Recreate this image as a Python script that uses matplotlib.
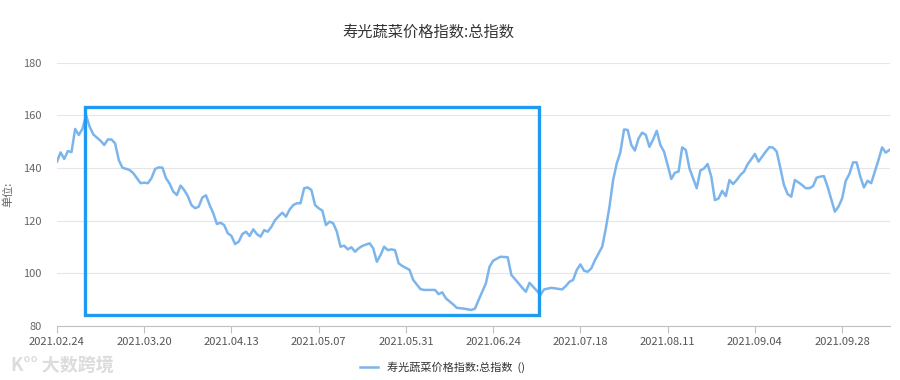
import matplotlib
matplotlib.use("Agg")
import matplotlib.pyplot as plt
from matplotlib.patches import Rectangle
import pandas as pd

plt.rcParams['font.family'] = ['Noto Sans CJK SC', 'DejaVu Sans']

start = pd.Timestamp("2021-02-24")

# days since 2021-02-24
days = [0, 1, 2, 3, 4, 5, 6, 7, 8, 9, 10, 12, 13, 14, 15, 16, 17, 18, 20, 21,
        23, 24, 25, 26, 27, 28, 29, 30, 31, 32, 33, 34, 35, 36, 37, 38, 39, 40, 41, 42,
        43, 44, 45, 46, 47, 48, 49, 50, 51, 52, 53, 54, 55, 56, 57, 58, 59, 60, 61, 62,
        63, 64, 65, 66, 67, 68, 69, 70, 71, 72, 73, 74, 75, 76, 77, 78, 79, 80, 81, 82,
        83, 84, 86, 87, 88, 89, 90, 91, 92, 93, 94, 95, 97, 98, 100, 101, 103, 104, 105, 106,
        107, 109, 110, 112, 114, 115, 116, 118, 119, 120, 122, 124, 125, 127, 128, 129, 130, 131, 132, 133,
        134, 136, 138, 139, 140, 141, 142, 143, 144, 145, 146, 147, 148, 150, 151, 152, 153, 154, 155, 156,
        157, 158, 159, 160, 161, 162, 163, 164, 165, 166, 167, 168, 169, 170, 171, 172, 173, 174, 175, 176,
        177, 178, 179, 180, 181, 182, 183, 184, 185, 186, 187, 188, 189, 190, 191, 192, 193, 194, 195, 196,
        197, 198, 199, 200, 201, 202, 203, 204, 205, 206, 207, 208, 209, 210, 211, 212, 213, 214, 215, 216,
        217, 218, 219, 220, 221, 222, 223, 224, 225, 226, 227, 228, 229]

values = [142.4, 145.9, 143.4, 146.4, 146.0, 154.8, 152.5, 154.8, 160.0, 155.6, 152.7, 150.3, 148.7, 150.8, 150.8, 149.3, 143.0, 140.1, 139.2, 138.0,
          134.2, 134.4, 134.2, 136.1, 139.6, 140.2, 140.1, 136.1, 134.0, 131.0, 129.7, 133.3, 131.6, 129.3, 125.9, 124.7, 125.3, 128.8, 129.6, 125.9,
          122.8, 118.7, 119.2, 118.3, 115.2, 114.2, 111.1, 112.0, 114.9, 115.8, 114.2, 116.7, 114.9, 113.9, 116.4, 115.8, 117.7, 120.2, 121.7, 123.0,
          121.5, 124.2, 125.9, 126.6, 126.6, 132.3, 132.6, 131.6, 125.9, 124.7, 123.8, 118.3, 119.6, 119.0, 115.8, 110.1, 110.5, 109.1, 109.9, 108.2,
          109.5, 110.4, 111.4, 109.5, 104.4, 106.9, 110.1, 108.8, 109.1, 108.8, 103.8, 102.8, 101.3, 97.5, 94.0, 93.7, 93.7, 93.7, 92.1, 92.8,
          90.5, 88.2, 86.9, 86.6, 86.1, 86.6, 89.9, 96.2, 102.5, 104.8, 106.3, 106.1, 99.4, 96.2, 94.5, 93.0, 96.4, 94.9, 93.4, 91.8,
          93.9, 94.5, 94.1, 93.9, 95.2, 96.8, 97.5, 101.3, 103.4, 101.0, 100.6, 101.9, 105.0, 110.1, 117.1, 125.3, 135.4, 141.7, 146.0, 154.6,
          154.4, 148.7, 146.6, 151.2, 153.4, 152.5, 148.0, 150.8, 154.1, 148.7, 146.2, 141.1, 135.8, 138.2, 138.6, 147.8, 146.8, 139.8, 136.0, 132.3,
          139.0, 139.8, 141.5, 136.7, 127.8, 128.4, 131.3, 129.3, 135.4, 133.9, 135.4, 137.3, 138.6, 141.4, 143.3, 145.3, 142.4, 144.3, 146.2, 147.9,
          147.7, 146.2, 140.0, 133.5, 130.1, 129.1, 135.4, 134.5, 133.5, 132.3, 132.3, 133.1, 136.3, 136.7, 136.9, 132.9, 128.1, 123.4, 125.3, 128.4,
          135.1, 137.7, 142.1, 142.1, 136.7, 132.6, 135.1, 134.2, 138.6, 143.0, 147.8, 145.8, 146.8]

tick_labels = ["2021.02.24", "2021.03.20", "2021.04.13", "2021.05.07", "2021.05.31",
               "2021.06.24", "2021.07.18", "2021.08.11", "2021.09.04", "2021.09.28"]

# highlighted box (dates, index values)
box_from, box_to = pd.Timestamp("2021-03-03 17:00"), pd.Timestamp("2021-07-06 14:00")
box_low, box_high = 84.2, 163.1

dates = [start + pd.Timedelta(days=d) for d in days]
ticks = [pd.Timestamp(t.replace(".", "-")) for t in tick_labels]

fig = plt.figure(figsize=(9, 3.8), dpi=100)
ax = fig.add_axes([0.0633, 0.142, 0.9257, 0.6935])

ax.plot(dates, values, color="#7cb5ec", linewidth=1.8, label="寿光蔬菜价格指数:总指数  ()")

bx0, bx1 = matplotlib.dates.date2num(box_from), matplotlib.dates.date2num(box_to)
ax.add_patch(Rectangle((bx0, box_low), bx1 - bx0, box_high - box_low,
                       fill=False, edgecolor="#1e9bf0", linewidth=2.4, clip_on=False, zorder=5))

ax.set_xlim(start, start + pd.Timedelta(days=229.2))
ax.set_ylim(80, 180)
ax.set_yticks([80, 100, 120, 140, 160, 180])
ax.set_xticks(ticks)
ax.set_xticklabels(tick_labels)

ax.grid(axis="y", color="#e6e6e6", linewidth=0.8)
ax.set_axisbelow(True)
for s in ["left", "right", "top"]:
    ax.spines[s].set_visible(False)
ax.spines["bottom"].set_color("#c0c0c0")
ax.tick_params(axis="y", length=0, colors="#666666", labelsize=8, pad=11)
ax.tick_params(axis="x", length=5, color="#c0c0c0", labelcolor="#555555", labelsize=8, pad=3)

ax.set_ylabel("单位:", fontsize=8, color="#666666")
ax.yaxis.set_label_coords(-0.052, 0.5)

fig.text(0.476, 0.915, "寿光蔬菜价格指数:总指数", ha="center", va="center", fontsize=11, color="#333333")

fig.legend(loc="center", bbox_to_anchor=(0.492, 0.033), frameon=False, fontsize=8,
           handlelength=1.6, labelcolor="#333333")

fig.text(0.012, 0.04, "K°° 大数跨境", fontsize=13, color="#dcdcdc", ha="left", va="center", fontweight="bold")

fig.savefig("out.png", dpi=100)
